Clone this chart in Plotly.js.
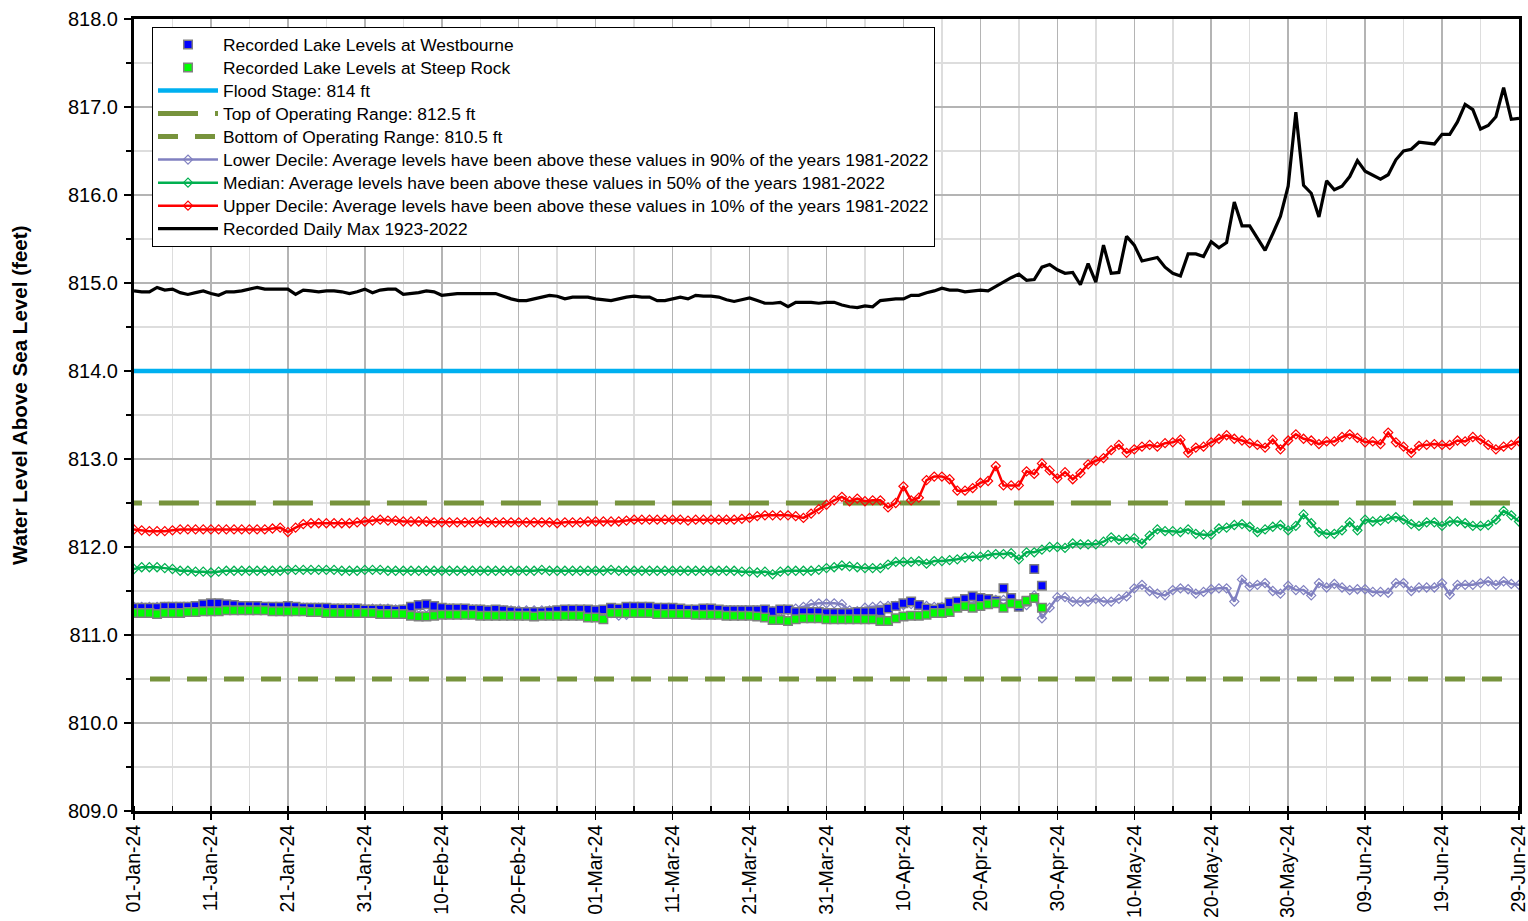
<!DOCTYPE html>
<html>
<head>
<meta charset="utf-8">
<script src="https://cdn.plot.ly/plotly-3.0.1.min.js"></script>
<style>
html, body { margin: 0; padding: 0; background: #ffffff; }
#chart { width: 1528px; height: 921px; }
</style>
</head>
<body>
<div id="chart"></div>
<script>
// ---- data ----
const startDate = '2024-01-01';
const endDate = '2024-06-29';

const dailyMax = [
  814.91, 814.90, 814.90, 814.95, 814.92, 814.93, 814.89, 814.87, 814.89, 814.91,
  814.88, 814.86, 814.90, 814.90, 814.91, 814.93, 814.95, 814.93, 814.93, 814.93,
  814.93, 814.87, 814.92, 814.91, 814.90, 814.91, 814.91, 814.90, 814.88, 814.90,
  814.93, 814.89, 814.92, 814.93, 814.93, 814.87, 814.88, 814.89, 814.91, 814.90,
  814.86, 814.87, 814.88, 814.88, 814.88, 814.88, 814.88, 814.88, 814.85, 814.82,
  814.80, 814.80, 814.82, 814.84, 814.86, 814.85, 814.82, 814.84, 814.84, 814.84,
  814.82, 814.81, 814.80, 814.82, 814.84, 814.85, 814.84, 814.84, 814.80, 814.80,
  814.82, 814.84, 814.82, 814.86, 814.85, 814.85, 814.84, 814.81, 814.79, 814.81,
  814.83, 814.80, 814.77, 814.77, 814.78, 814.73, 814.78, 814.78, 814.78, 814.77,
  814.78, 814.78, 814.75, 814.73, 814.72, 814.74, 814.73, 814.80, 814.81, 814.82,
  814.82, 814.86, 814.86, 814.89, 814.91, 814.94, 814.92, 814.92, 814.90, 814.91,
  814.92, 814.91, 814.96, 815.02, 815.06, 815.10, 815.03, 815.04, 815.18, 815.21,
  815.15, 815.11, 815.12, 814.98, 815.22, 815.01, 815.43, 815.11, 815.12, 815.53,
  815.43, 815.25, 815.27, 815.29, 815.18, 815.11, 815.08, 815.33, 815.33, 815.30,
  815.47, 815.40, 815.46, 815.92, 815.65, 815.65, 815.51, 815.37, 815.56, 815.76,
  816.10, 816.94, 816.11, 816.02, 815.75, 816.16, 816.06, 816.10, 816.21, 816.39,
  816.27, 816.23, 816.18, 816.23, 816.40, 816.50, 816.52, 816.60, 816.59, 816.58,
  816.69, 816.69, 816.83, 817.03, 816.97, 816.75, 816.79, 816.89, 817.22, 816.86, 816.87
];

const upperDecile = [
  812.20, 812.19, 812.18, 812.18, 812.18, 812.19, 812.20, 812.20, 812.20, 812.20,
  812.20, 812.20, 812.20, 812.20, 812.20, 812.20, 812.20, 812.20, 812.21, 812.22,
  812.17, 812.22, 812.26, 812.27, 812.27, 812.27, 812.27, 812.27, 812.27, 812.28,
  812.29, 812.30, 812.31, 812.30, 812.30, 812.29, 812.29, 812.29, 812.29, 812.28,
  812.28, 812.28, 812.28, 812.28, 812.28, 812.29, 812.28, 812.28, 812.28, 812.28,
  812.28, 812.28, 812.28, 812.28, 812.28, 812.27, 812.28, 812.28, 812.28, 812.29,
  812.29, 812.29, 812.29, 812.29, 812.30, 812.31, 812.31, 812.31, 812.31, 812.31,
  812.31, 812.31, 812.30, 812.31, 812.31, 812.31, 812.31, 812.31, 812.31, 812.32,
  812.33, 812.35, 812.36, 812.36, 812.36, 812.36, 812.35, 812.33, 812.38, 812.43,
  812.48, 812.53, 812.57, 812.52, 812.55, 812.52, 812.53, 812.53, 812.45, 812.50,
  812.69, 812.53, 812.56, 812.76, 812.80, 812.80, 812.77, 812.64, 812.64, 812.67,
  812.73, 812.75, 812.92, 812.70, 812.70, 812.70, 812.86, 812.83, 812.95, 812.87,
  812.78, 812.85, 812.77, 812.84, 812.94, 812.98, 813.01, 813.10, 813.16, 813.07,
  813.11, 813.14, 813.16, 813.14, 813.18, 813.19, 813.22, 813.07, 813.13, 813.14,
  813.19, 813.23, 813.27, 813.23, 813.21, 813.18, 813.16, 813.13, 813.22, 813.11,
  813.21, 813.28, 813.23, 813.21, 813.17, 813.20, 813.20, 813.25, 813.28, 813.24,
  813.19, 813.20, 813.17, 813.30, 813.19, 813.14, 813.07, 813.15, 813.16, 813.17,
  813.16, 813.16, 813.21, 813.20, 813.25, 813.22, 813.16, 813.11, 813.14, 813.16, 813.20
];

const median = [
  811.75, 811.77, 811.77, 811.77, 811.76, 811.75, 811.73, 811.73, 811.72, 811.72,
  811.71, 811.72, 811.73, 811.73, 811.73, 811.73, 811.73, 811.73, 811.73, 811.73,
  811.74, 811.74, 811.74, 811.74, 811.74, 811.74, 811.74, 811.73, 811.73, 811.73,
  811.74, 811.74, 811.74, 811.73, 811.73, 811.73, 811.73, 811.73, 811.73, 811.73,
  811.73, 811.73, 811.73, 811.73, 811.73, 811.73, 811.73, 811.73, 811.73, 811.73,
  811.73, 811.73, 811.73, 811.74, 811.73, 811.73, 811.73, 811.73, 811.73, 811.73,
  811.73, 811.73, 811.74, 811.73, 811.73, 811.73, 811.73, 811.73, 811.73, 811.73,
  811.73, 811.73, 811.73, 811.73, 811.73, 811.73, 811.73, 811.73, 811.73, 811.72,
  811.72, 811.71, 811.72, 811.69, 811.72, 811.73, 811.73, 811.73, 811.73, 811.74,
  811.76, 811.77, 811.79, 811.78, 811.77, 811.76, 811.76, 811.76, 811.80, 811.83,
  811.83, 811.83, 811.84, 811.81, 811.84, 811.84, 811.85, 811.86, 811.88, 811.89,
  811.89, 811.91, 811.92, 811.92, 811.93, 811.86, 811.94, 811.94, 811.97, 812.00,
  812.00, 811.99, 812.04, 812.03, 812.03, 812.03, 812.06, 812.11, 812.08, 812.09,
  812.10, 812.04, 812.13, 812.20, 812.18, 812.18, 812.17, 812.20, 812.15, 812.14,
  812.14, 812.21, 812.22, 812.25, 812.26, 812.23, 812.17, 812.20, 812.23, 812.25,
  812.19, 812.24, 812.37, 812.27, 812.17, 812.15, 812.15, 812.19, 812.28, 812.19,
  812.31, 812.29, 812.30, 812.32, 812.34, 812.31, 812.26, 812.24, 812.28, 812.28,
  812.24, 812.29, 812.29, 812.27, 812.24, 812.24, 812.25, 812.31, 812.41, 812.36, 812.29
];

const lowerDecile = [
  811.32, 811.32, 811.32, 811.32, 811.32, 811.32, 811.32, 811.32, 811.32, 811.33,
  811.33, 811.33, 811.33, 811.32, 811.32, 811.32, 811.32, 811.31, 811.31, 811.31,
  811.31, 811.31, 811.31, 811.31, 811.31, 811.30, 811.30, 811.30, 811.30, 811.30,
  811.30, 811.30, 811.30, 811.30, 811.29, 811.29, 811.30, 811.31, 811.31, 811.31,
  811.30, 811.30, 811.29, 811.29, 811.29, 811.29, 811.28, 811.28, 811.28, 811.28,
  811.28, 811.28, 811.28, 811.28, 811.28, 811.28, 811.28, 811.28, 811.28, 811.27,
  811.27, 811.27, 811.25, 811.22, 811.23, 811.27, 811.29, 811.29, 811.29, 811.28,
  811.28, 811.28, 811.28, 811.28, 811.28, 811.28, 811.28, 811.28, 811.28, 811.28,
  811.28, 811.28, 811.28, 811.27, 811.27, 811.28, 811.30, 811.32, 811.35, 811.36,
  811.36, 811.36, 811.35, 811.28, 811.27, 811.31, 811.32, 811.33, 811.33, 811.33,
  811.34, 811.35, 811.34, 811.33, 811.32, 811.32, 811.33, 811.34, 811.36, 811.37,
  811.39, 811.39, 811.40, 811.40, 811.40, 811.33, 811.34, 811.45, 811.19, 811.31,
  811.43, 811.43, 811.38, 811.38, 811.38, 811.41, 811.38, 811.38, 811.41, 811.44,
  811.53, 811.57, 811.50, 811.47, 811.45, 811.51, 811.53, 811.52, 811.47, 811.49,
  811.52, 811.53, 811.53, 811.38, 811.63, 811.55, 811.57, 811.59, 811.50, 811.47,
  811.56, 811.51, 811.51, 811.45, 811.59, 811.54, 811.58, 811.54, 811.51, 811.52,
  811.52, 811.49, 811.49, 811.48, 811.59, 811.59, 811.50, 811.54, 811.54, 811.54,
  811.59, 811.46, 811.57, 811.57, 811.57, 811.59, 811.61, 811.57, 811.61, 811.58, 811.57
];

const westbourne = [
  811.31, 811.31, 811.31, 811.31, 811.32, 811.32, 811.32, 811.32, 811.33, 811.35,
  811.36, 811.36, 811.35, 811.34, 811.33, 811.33, 811.33, 811.32, 811.32, 811.32,
  811.33, 811.32, 811.31, 811.31, 811.31, 811.31, 811.30, 811.30, 811.30, 811.30,
  811.29, 811.29, 811.29, 811.29, 811.28, 811.29, 811.32, 811.34, 811.35, 811.33,
  811.31, 811.30, 811.30, 811.30, 811.29, 811.29, 811.28, 811.29, 811.28, 811.27,
  811.26, 811.26, 811.26, 811.26, 811.27, 811.28, 811.29, 811.29, 811.29, 811.29,
  811.28, 811.29, 811.31, 811.30, 811.32, 811.32, 811.32, 811.32, 811.31, 811.31,
  811.31, 811.30, 811.29, 811.29, 811.30, 811.30, 811.29, 811.28, 811.28, 811.28,
  811.28, 811.28, 811.29, 811.27, 811.29, 811.29, 811.26, 811.26, 811.26, 811.26,
  811.25, 811.25, 811.25, 811.25, 811.26, 811.26, 811.26, 811.27, 811.30, 811.33,
  811.36, 811.38, 811.34, 811.30, 811.29, 811.31, 811.37, 811.38, 811.41, 811.44,
  811.42, 811.41, 811.39, 811.53, 811.42, 811.32, 811.38, 811.75, 811.56
];

const steepRock = [
  811.25, 811.25, 811.25, 811.24, 811.25, 811.25, 811.25, 811.26, 811.26, 811.27,
  811.27, 811.27, 811.28, 811.28, 811.28, 811.28, 811.28, 811.28, 811.27, 811.27,
  811.27, 811.27, 811.27, 811.26, 811.26, 811.25, 811.25, 811.25, 811.25, 811.25,
  811.25, 811.25, 811.24, 811.24, 811.24, 811.24, 811.22, 811.21, 811.21, 811.22,
  811.23, 811.23, 811.23, 811.23, 811.23, 811.22, 811.22, 811.22, 811.22, 811.22,
  811.22, 811.22, 811.21, 811.22, 811.22, 811.22, 811.22, 811.22, 811.22, 811.20,
  811.20, 811.18, 811.25, 811.25, 811.25, 811.25, 811.25, 811.25, 811.24, 811.24,
  811.24, 811.24, 811.24, 811.23, 811.23, 811.23, 811.23, 811.22, 811.22, 811.22,
  811.22, 811.21, 811.20, 811.17, 811.17, 811.16, 811.18, 811.19, 811.19, 811.19,
  811.18, 811.18, 811.18, 811.18, 811.18, 811.18, 811.18, 811.16, 811.16, 811.19,
  811.21, 811.22, 811.22, 811.23, 811.25, 811.25, 811.26, 811.31, 811.33, 811.31,
  811.33, 811.35, 811.36, 811.31, 811.36, 811.35, 811.39, 811.42, 811.31
];

const floodStage = 814.0;
const topOperating = 812.5;
const bottomOperating = 810.5;

const seriesNames = {
  westbourne: 'Recorded Lake Levels at Westbourne',
  steepRock: 'Recorded Lake Levels at Steep Rock',
  flood: 'Flood Stage: 814 ft',
  top: 'Top of Operating Range: 812.5 ft',
  bottom: 'Bottom of Operating Range: 810.5 ft',
  lower: 'Lower Decile: Average levels have been above these values in 90% of the years 1981-2022',
  median: 'Median: Average levels have been above these values in 50% of the years 1981-2022',
  upper: 'Upper Decile: Average levels have been above these values in 10% of the years 1981-2022',
  max: 'Recorded Daily Max 1923-2022'
};
const yTitle = 'Water Level Above Sea Level (feet)';

// daily date categories
function dayList(start, n) {
  const out = [];
  const s = new Date(start + 'T00:00:00Z');
  for (let i = 0; i < n; i++) {
    const d = new Date(s.getTime() + i * 86400000);
    out.push(d.toISOString().slice(0, 10));
  }
  return out;
}
const datesAll = dayList(startDate, dailyMax.length);
const datesObs = dayList(startDate, westbourne.length);
const lineX = [startDate, endDate];
// dashed range lines start a little left of the (clipped) plot edge so the dash phase matches
const topLineX = ['2023-12-27 20:00', endDate];
const bottomLineX = ['2023-12-29 06:30', endDate];

const FONT = '"Liberation Sans", Arial, Helvetica, sans-serif';
const OLIVE = '#77933C';
const legendLabel = (s) => '<span style="font-size:17.4px">' + s + '</span>';

const traces = [
  {
    name: legendLabel(seriesNames.flood), x: lineX, y: [floodStage, floodStage],
    mode: 'lines', line: { color: '#00B0F0', width: 4.5 }, legendrank: 3, hoverinfo: 'skip'
  },
  {
    name: legendLabel(seriesNames.top), x: topLineX, y: [topOperating, topOperating],
    mode: 'lines', line: { color: OLIVE, width: 5, dash: '40px,17px' }, legendrank: 4, hoverinfo: 'skip'
  },
  {
    name: legendLabel(seriesNames.bottom), x: bottomLineX, y: [bottomOperating, bottomOperating],
    mode: 'lines', line: { color: OLIVE, width: 5, dash: '20px,17px' }, legendrank: 5, hoverinfo: 'skip'
  },
  {
    name: legendLabel(seriesNames.lower), x: datesAll, y: lowerDecile, mode: 'lines+markers',
    line: { color: '#8080C0', width: 2.5 },
    marker: { symbol: 'diamond-open', size: 7, color: '#8080C0', line: { width: 1.2 } },
    legendrank: 6
  },
  {
    name: legendLabel(seriesNames.median), x: datesAll, y: median, mode: 'lines+markers',
    line: { color: '#00B050', width: 2.5 },
    marker: { symbol: 'diamond-open', size: 7, color: '#00B050', line: { width: 1.2 } },
    legendrank: 7
  },
  {
    name: legendLabel(seriesNames.upper), x: datesAll, y: upperDecile, mode: 'lines+markers',
    line: { color: '#FF0000', width: 2.5 },
    marker: { symbol: 'diamond-open', size: 7, color: '#FF0000', line: { width: 1.2 } },
    legendrank: 8
  },
  {
    name: legendLabel(seriesNames.max), x: datesAll, y: dailyMax, mode: 'lines',
    line: { color: '#000000', width: 3.2 }, legendrank: 9
  },
  {
    name: legendLabel(seriesNames.westbourne), x: datesObs, y: westbourne, mode: 'markers',
    marker: { symbol: 'square', size: 8.5, color: '#0000FF', line: { color: '#808080', width: 1.5 } },
    legendrank: 1
  },
  {
    name: legendLabel(seriesNames.steepRock), x: datesObs, y: steepRock, mode: 'markers',
    marker: { symbol: 'square', size: 8.5, color: '#00FF00', line: { color: '#808080', width: 1.5 } },
    legendrank: 2
  }
];

// plot area in pixels (for placing the rotated y title)
const M = { l: 134, r: 9, t: 19, b: 110 };
const W = 1528, H = 921;
const plotW = W - M.l - M.r, plotH = H - M.t - M.b;

const layout = {
  width: W, height: H,
  margin: { l: M.l, r: M.r, t: M.t, b: M.b, pad: 0 },
  paper_bgcolor: '#ffffff', plot_bgcolor: '#ffffff',
  font: { family: FONT, color: '#000000', size: 17 },
  showlegend: true,
  legend: {
    x: 0.013, y: 1 - (27 - M.t) / plotH, xanchor: 'left', yanchor: 'top',
    bgcolor: '#ffffff', bordercolor: '#000000', borderwidth: 1,
    font: { family: FONT, size: 15.4, color: '#000000' },
    itemwidth: 60, traceorder: 'normal', itemclick: false
  },
  xaxis: {
    type: 'date', range: [startDate, endDate + ' 00:01'],
    tick0: startDate, dtick: 864000000, tickformat: '%d-%b-%y', tickangle: -90,
    tickfont: { family: FONT, size: 19.5, color: '#000' },
    ticklabeloverflow: 'allow', ticklabelstandoff: -3,
    ticks: 'outside', ticklen: 6, tickwidth: 1.5, tickcolor: '#000',
    showgrid: true, gridcolor: '#b4b4b4', gridwidth: 1.5,
    showline: true, linecolor: '#000', linewidth: 3, mirror: true,
    zeroline: false,
    minor: { tick0: startDate, dtick: 432000000, showgrid: true, gridcolor: '#dddddd', gridwidth: 1.5,
             ticks: 'inside', ticklen: 5, tickwidth: 1.5, tickcolor: '#000' }
  },
  yaxis: {
    range: [809, 818], tick0: 809, dtick: 1, tickformat: '.1f',
    tickfont: { family: FONT, size: 20, color: '#000' },
    ticklabelstandoff: 2,
    ticks: 'outside', ticklen: 7, tickwidth: 1.5, tickcolor: '#000',
    showgrid: true, gridcolor: '#b4b4b4', gridwidth: 1.5,
    showline: true, linecolor: '#000', linewidth: 3, mirror: true,
    zeroline: false,
    minor: { dtick: 0.5, showgrid: true, gridcolor: '#dddddd', gridwidth: 1.5,
             ticks: 'outside', ticklen: 5, tickwidth: 1.5, tickcolor: '#000' }
  },
  annotations: [
    {
      text: '<b>' + yTitle + '</b>', textangle: -90, showarrow: false,
      xref: 'paper', yref: 'paper',
      x: (20 - M.l) / plotW, y: 1 - (395 - M.t) / plotH,
      xanchor: 'center', yanchor: 'middle',
      font: { family: FONT, size: 20.6, color: '#000' }
    }
  ]
};

Plotly.newPlot('chart', traces, layout, { displayModeBar: false, staticPlot: true });
</script>
</body>
</html>
